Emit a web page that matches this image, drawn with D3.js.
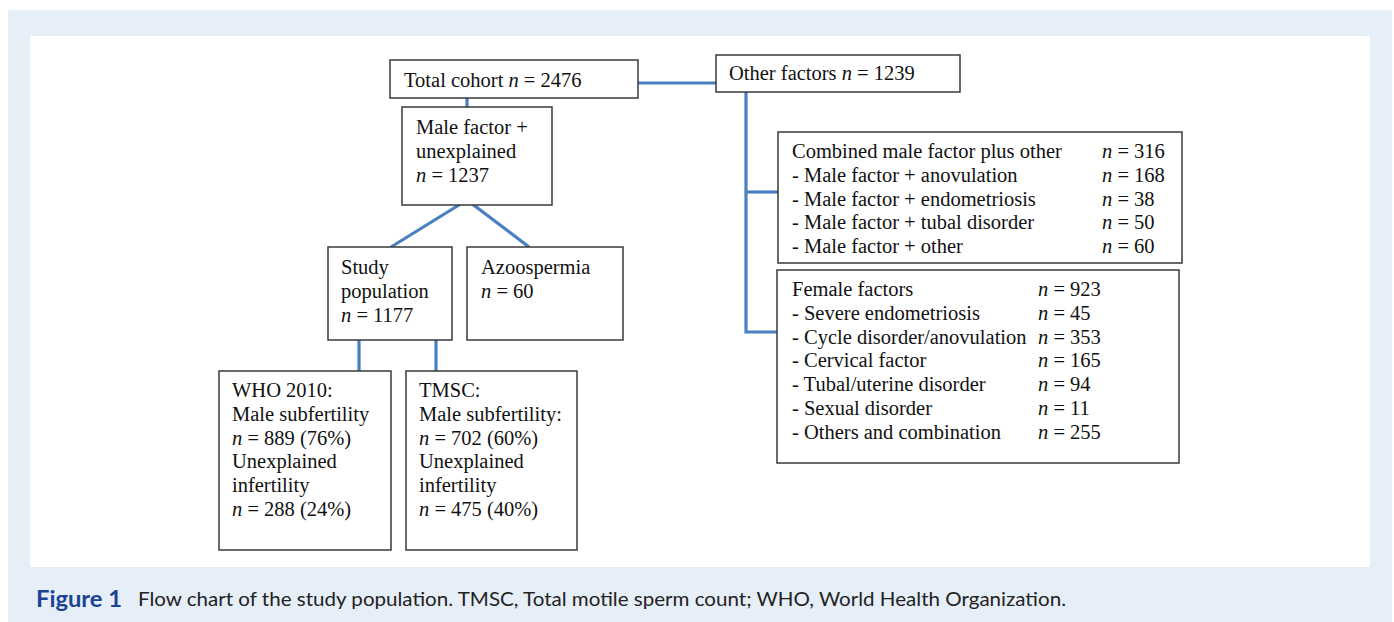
<!DOCTYPE html>
<html>
<head>
<meta charset="utf-8">
<script src="https://cdn.jsdelivr.net/npm/d3@7"></script>
<style>
  body { margin: 0; background: #fff; }
  svg { display: block; }
</style>
</head>
<body>
<div id="chart"></div>
<script>
// counts
var totalN = 2476;
var otherN = 1239;
var maleUnexplN = 1237;
var studyN = 1177;
var azooN = 60;
var whoMale = [889, 76];
var whoUnexpl = [288, 24];
var tmscMale = [702, 60];
var tmscUnexpl = [475, 40];

var combinedLabels = ["Combined male factor plus other", "- Male factor + anovulation",
  "- Male factor + endometriosis", "- Male factor + tubal disorder", "- Male factor + other"];
var combinedN = [316, 168, 38, 50, 60];

var femaleLabels = ["Female factors", "- Severe endometriosis", "- Cycle disorder/anovulation",
  "- Cervical factor", "- Tubal/uterine disorder", "- Sexual disorder", "- Others and combination"];
var femaleN = [923, 45, 353, 165, 94, 11, 255];

var captionTitle = "Figure 1";
var captionText = "Flow chart of the study population. TMSC, Total motile sperm count; WHO, World Health Organization.";

var W = 1394, H = 622;
var LINE = "#4a7fc1", BOX = "#3a3a3a";
var lh = 23.8; // line height of box text

var svg = d3.select("#chart").append("svg").attr("width", W).attr("height", H);

// page background panels
svg.append("rect").attr("x", 8).attr("y", 10).attr("width", 1384).attr("height", 612).attr("fill", "#e6eef8");
svg.append("rect").attr("x", 30).attr("y", 36).attr("width", 1340).attr("height", 531).attr("fill", "#ffffff");

// box layout: x, y, w, h
var boxes = {
  total:    [390, 60, 248, 38],
  other:    [716, 55, 244, 37],
  male:     [402, 107, 150, 98],
  study:    [328, 247, 124, 93],
  azoo:     [467, 247, 156, 93],
  who:      [219, 371, 172, 179],
  tmsc:     [406, 371, 171, 179],
  combined: [778, 132, 404, 131],
  female:   [777, 270, 402, 193]
};

// connectors first so the boxes sit on top
var links = [
  [[638, 83], [716, 83]],
  [[467, 98], [467, 107]],
  [[467, 200], [391, 247]],
  [[467, 200], [529, 247]],
  [[359, 340], [359, 371]],
  [[436, 340], [436, 371]],
  [[746, 92], [746, 332], [777, 332]],
  [[746, 192], [778, 192]]
];
svg.append("g").selectAll("path").data(links).join("path")
  .attr("d", d3.line())
  .attr("fill", "none")
  .attr("stroke", LINE)
  .attr("stroke-width", 3.2);

svg.append("g").selectAll("rect").data(Object.values(boxes)).join("rect")
  .attr("x", function(d) { return d[0]; })
  .attr("y", function(d) { return d[1]; })
  .attr("width", function(d) { return d[2]; })
  .attr("height", function(d) { return d[3]; })
  .attr("fill", "#fff")
  .attr("stroke", BOX)
  .attr("stroke-width", 1.5);

var txt = svg.append("g")
  .attr("font-family", "'Liberation Serif', 'Times New Roman', serif")
  .attr("font-size", 20.5)
  .attr("fill", "#111");

// a line of text; parts with "n" get italic n
function addLine(x, y, pre, n, post) {
  var t = txt.append("text").attr("x", x).attr("y", y);
  if (pre) t.append("tspan").text(pre);
  if (n !== undefined && n !== null) {
    t.append("tspan").attr("font-style", "italic").text("n");
    t.append("tspan").text(" = " + n + (post || ""));
  }
  return t;
}

addLine(404, 87, "Total cohort ", totalN);
addLine(729, 80, "Other factors ", otherN);

addLine(416, 134, "Male factor +");
addLine(416, 134 + lh, "unexplained");
addLine(416, 134 + 2 * lh, "", maleUnexplN);

addLine(341, 274, "Study");
addLine(341, 274 + lh, "population");
addLine(341, 274 + 2 * lh, "", studyN);

addLine(481, 274, "Azoospermia");
addLine(481, 274 + lh, "", azooN);

var whoLines = ["WHO 2010:", "Male subfertility", null, "Unexplained", "infertility", null];
var tmscLines = ["TMSC:", "Male subfertility:", null, "Unexplained", "infertility", null];
[[232, whoLines, whoMale, whoUnexpl], [419, tmscLines, tmscMale, tmscUnexpl]].forEach(function(c) {
  c[1].forEach(function(s, i) {
    var y = 397 + i * lh;
    if (s !== null) addLine(c[0], y, s);
    else {
      var v = i === 2 ? c[2] : c[3];
      addLine(c[0], y, "", v[0], " (" + v[1] + "%)");
    }
  });
});

combinedLabels.forEach(function(s, i) {
  var y = 158 + i * lh;
  addLine(792, y, s);
  addLine(1102, y, "", combinedN[i]);
});

femaleLabels.forEach(function(s, i) {
  var y = 296 + i * lh;
  addLine(792, y, s);
  addLine(1038, y, "", femaleN[i]);
});

// caption
svg.append("text").attr("x", 36).attr("y", 607)
  .attr("font-family", "Lato, 'Open Sans', sans-serif")
  .attr("font-weight", "bold").attr("font-size", 23).attr("fill", "#1c4391")
  .attr("textLength", 86).attr("lengthAdjust", "spacingAndGlyphs").text(captionTitle);
svg.append("text").attr("x", 138).attr("y", 606)
  .attr("font-family", "Lato, 'Open Sans', sans-serif")
  .attr("font-size", 19).attr("fill", "#222")
  .attr("textLength", 928).attr("lengthAdjust", "spacingAndGlyphs")
  .text(captionText);
</script>
</body>
</html>
